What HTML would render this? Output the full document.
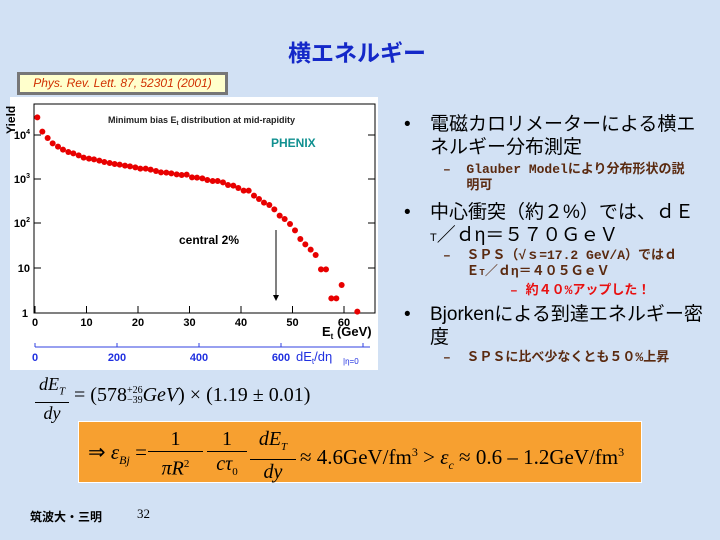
<!DOCTYPE html>
<html><head><meta charset="utf-8"><style>
body{margin:0;width:720px;height:540px;background:#d2e1f4;position:relative;overflow:hidden;font-family:"Liberation Sans","Noto Sans CJK JP",sans-serif}
.a{position:absolute;white-space:nowrap}
.b{font-size:19px;color:#000;line-height:23px}
.s{font-size:13px;color:#5a2a10;line-height:16px;font-family:"Liberation Mono","Noto Sans CJK JP",monospace;font-weight:bold}
.m{font-family:"Liberation Serif",serif}
</style></head><body>
<div class="a" style="left:288px;top:34px;font-size:23px;font-weight:bold;color:#1428c8">横エネルギー</div>
<div class="a" style="left:17px;top:72px;width:205px;height:17px;background:#ffffcc;border:3px solid #777;color:#d03000;font-size:12px;font-style:italic;text-align:center;line-height:17px">Phys. Rev. Lett. 87, 52301 (2001)</div>
<svg class="a" style="left:0;top:0" width="720" height="540">
<rect x="10" y="97" width="368" height="273" fill="#fff"/>
<rect x="34" y="104" width="341" height="209" fill="none" stroke="#000" stroke-width="1"/>
<g stroke="#000" stroke-width="1">
<line x1="35" y1="313" x2="35" y2="306"/><line x1="86.5" y1="313" x2="86.5" y2="306"/><line x1="138" y1="313" x2="138" y2="306"/><line x1="189.5" y1="313" x2="189.5" y2="306"/><line x1="241" y1="313" x2="241" y2="306"/><line x1="292.5" y1="313" x2="292.5" y2="306"/><line x1="344" y1="313" x2="344" y2="306"/>
<line x1="34" y1="268" x2="41" y2="268"/><line x1="34" y1="223" x2="41" y2="223"/><line x1="34" y1="179" x2="41" y2="179"/><line x1="34" y1="135" x2="41" y2="135"/>
<line x1="375" y1="268" x2="368" y2="268"/><line x1="375" y1="223" x2="368" y2="223"/><line x1="375" y1="179" x2="368" y2="179"/><line x1="375" y1="135" x2="368" y2="135"/>
<line x1="276" y1="230" x2="276" y2="298"/>
</g>
<polygon points="273,295 279,295 276,301" fill="#000"/>
<g font-size="11" font-weight="bold" fill="#000" text-anchor="middle">
<text x="35" y="326">0</text><text x="86.5" y="326">10</text><text x="138" y="326">20</text><text x="189.5" y="326">30</text><text x="241" y="326">40</text><text x="292.5" y="326">50</text><text x="344" y="326">60</text>
</g>
<g font-size="11" font-weight="bold" fill="#000" text-anchor="end">
<text x="28" y="317">1</text><text x="30" y="272">10</text><text x="30" y="227">10<tspan font-size="7" dy="-5">2</tspan></text><text x="30" y="183">10<tspan font-size="7" dy="-5">3</tspan></text><text x="30" y="139">10<tspan font-size="7" dy="-5">4</tspan></text>
</g>
<text x="15" y="134" font-size="12" font-weight="bold" transform="rotate(-90 15 134)" fill="#000">Yield</text>
<text x="108" y="123" font-size="9" font-weight="bold" fill="#222">Minimum bias E<tspan font-size="6" dy="2">t</tspan><tspan dy="-2"> distribution at mid-rapidity</tspan></text>
<text x="271" y="147" font-size="12" font-weight="bold" fill="#109090">PHENIX</text>
<text x="179" y="244" font-size="12" font-weight="bold" fill="#000">central 2%</text>
<text x="322" y="336" font-size="13" font-weight="bold" fill="#000">E<tspan font-size="8" dy="3">t</tspan><tspan dy="-3"> (GeV)</tspan></text>
<line x1="35" y1="347" x2="370" y2="347" stroke="#3040e0"/>
<g stroke="#3040e0"><line x1="35" y1="343" x2="35" y2="347"/><line x1="117" y1="343" x2="117" y2="347"/><line x1="199" y1="343" x2="199" y2="347"/><line x1="281" y1="343" x2="281" y2="347"/><line x1="363" y1="343" x2="363" y2="347"/></g>
<g font-size="11" font-weight="bold" fill="#2030e0" text-anchor="middle"><text x="35" y="361">0</text><text x="117" y="361">200</text><text x="199" y="361">400</text><text x="281" y="361">600</text></g>
<text x="296" y="361" font-size="13" fill="#2030e0">dE<tspan font-size="8" dy="3">t</tspan><tspan dy="-3">/dη</tspan></text>
<text x="343" y="364" font-size="8" fill="#2030e0">|<tspan>η=0</tspan></text>
<g fill="#e80000" transform="translate(0,90) scale(0.33333)">
<circle cx="112" cy="82" r="9"/><circle cx="127" cy="125" r="9"/><circle cx="143" cy="144" r="9"/><circle cx="158" cy="160" r="9"/><circle cx="174" cy="170" r="9"/><circle cx="189" cy="179" r="9"/><circle cx="205" cy="186" r="9"/><circle cx="220" cy="190" r="9"/><circle cx="236" cy="196" r="9"/><circle cx="251" cy="203" r="9"/><circle cx="267" cy="206" r="9"/><circle cx="282" cy="208" r="9"/><circle cx="298" cy="212" r="9"/><circle cx="313" cy="216" r="9"/><circle cx="329" cy="219" r="9"/><circle cx="344" cy="222" r="9"/><circle cx="359" cy="224" r="9"/><circle cx="375" cy="227" r="9"/><circle cx="390" cy="229" r="9"/><circle cx="406" cy="232" r="9"/><circle cx="421" cy="236" r="9"/><circle cx="437" cy="236" r="9"/><circle cx="452" cy="239" r="9"/><circle cx="468" cy="243" r="9"/><circle cx="483" cy="247" r="9"/><circle cx="499" cy="248" r="9"/><circle cx="514" cy="250" r="9"/><circle cx="530" cy="253" r="9"/><circle cx="545" cy="255" r="9"/><circle cx="560" cy="254" r="9"/><circle cx="576" cy="262" r="9"/><circle cx="591" cy="263" r="9"/><circle cx="607" cy="265" r="9"/><circle cx="622" cy="270" r="9"/><circle cx="638" cy="273" r="9"/><circle cx="653" cy="273" r="9"/><circle cx="669" cy="277" r="9"/><circle cx="684" cy="285" r="9"/><circle cx="700" cy="287" r="9"/><circle cx="715" cy="294" r="9"/><circle cx="731" cy="302" r="9"/><circle cx="746" cy="302" r="9"/><circle cx="762" cy="317" r="9"/><circle cx="777" cy="327" r="9"/><circle cx="792" cy="338" r="9"/><circle cx="808" cy="345" r="9"/><circle cx="823" cy="358" r="9"/><circle cx="839" cy="377" r="9"/><circle cx="854" cy="387" r="9"/><circle cx="870" cy="402" r="9"/><circle cx="885" cy="421" r="9"/><circle cx="901" cy="447" r="9"/><circle cx="916" cy="463" r="9"/><circle cx="932" cy="479" r="9"/><circle cx="947" cy="495" r="9"/><circle cx="963" cy="538" r="9"/><circle cx="978" cy="538" r="9"/><circle cx="994" cy="625" r="9"/><circle cx="1009" cy="625" r="9"/><circle cx="1025" cy="585" r="9"/><circle cx="1072" cy="665" r="9"/>
</g>
</svg>
<div class="a b" style="left:404px;top:113px">•</div>
<div class="a b" style="left:430px;top:113px">電磁カロリメーターによる横エ<br>ネルギー分布測定</div>
<div class="a s" style="left:443px;top:162px">–&nbsp;&nbsp;Glauber Modelにより分布形状の説<br>&nbsp;&nbsp;&nbsp;明可</div>
<div class="a b" style="left:404px;top:201px">•</div>
<div class="a b" style="left:430px;top:201px">中心衝突（約２%）では、ｄＥ<br><span style="font-size:11px">T</span>／ｄη＝５７０ＧｅＶ</div>
<div class="a s" style="left:443px;top:248px">–&nbsp;&nbsp;ＳＰＳ（√ｓ=17.2 GeV/A）ではｄ<br>&nbsp;&nbsp;&nbsp;Ｅ<span style="font-size:9px">T</span>／ｄη＝４０５ＧｅＶ</div>
<div class="a s" style="left:510px;top:283px;color:#e81010">–&nbsp;約４０%アップした！</div>
<div class="a b" style="left:404px;top:303px">•</div>
<div class="a b" style="left:430px;top:303px">Bjorkenによる到達エネルギー密<br>度</div>
<div class="a s" style="left:443px;top:350px">–&nbsp;&nbsp;ＳＰＳに比べ少なくとも５０%上昇</div>
<div class="a m" style="left:35px;top:374px;font-size:18px;font-style:italic;text-align:center;line-height:20px">dE<sub style="font-size:11px">T</sub><div style="border-top:1px solid #000;width:34px"></div>dy</div>
<div class="a m" style="left:74px;top:384px;font-size:20px">= (578<span style="display:inline-block;font-size:10px;line-height:10px;vertical-align:middle">+26<br>−39</span><i>GeV</i>) × (1.19 ± 0.01)</div>
<div class="a" style="left:78px;top:421px;width:562px;height:60px;background:#f7a030;border:1px solid #fff"></div>
<div class="a m" style="left:88px;top:430px;font-size:21px;line-height:44px">⇒ <i>ε<sub style="font-size:12px">Bj</sub></i> = </div>
<div class="a m" style="left:148px;top:427px;font-size:20px;text-align:center;line-height:24px;width:55px">1<div style="border-top:1px solid #000"></div><i>πR</i><sup style="font-size:11px">2</sup></div>
<div class="a m" style="left:207px;top:427px;font-size:20px;text-align:center;line-height:24px;width:40px">1<div style="border-top:1px solid #000"></div><i>cτ</i><sub style="font-size:11px">0</sub></div>
<div class="a m" style="left:250px;top:427px;font-size:20px;text-align:center;line-height:24px;width:46px"><i>dE</i><sub style="font-size:11px"><i>T</i></sub><div style="border-top:1px solid #000"></div><i>dy</i></div>
<div class="a m" style="left:300px;top:430px;font-size:21px;line-height:44px">≈ 4.6GeV/fm<sup style="font-size:12px">3</sup> &gt; <i>ε<sub style="font-size:12px">c</sub></i> ≈ 0.6 – 1.2GeV/fm<sup style="font-size:12px">3</sup></div>
<div class="a" style="left:30px;top:508px;font-size:12px;font-weight:bold">筑波大・三明</div>
<div class="a m" style="left:137px;top:506px;font-size:13px">32</div>
</body></html>
